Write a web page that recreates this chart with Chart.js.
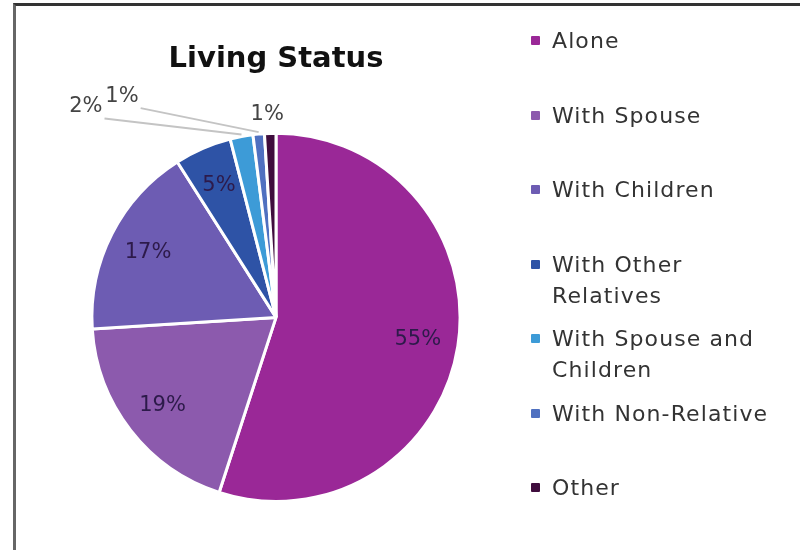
<!DOCTYPE html>
<html>
<head>
<meta charset="utf-8">
<script src="https://cdn.jsdelivr.net/npm/chart.js@4"></script>
<style>
  body { margin: 0; background: #fff; }
  #frame { position: absolute; left: 13px; top: 3px; width: 800px; height: 560px;
           border-top: 3px solid #333; border-left: 3px solid #666; }
  #wrap { position: absolute; left: 0; top: 0; width: 540px; height: 550px; }
  #legend { position: absolute; left: 531px; top: 25px; font-family: "DejaVu Sans", sans-serif;
            font-size: 22px; letter-spacing: 1.1px; color: #333; }
  .item { position: relative; height: 74.5px; padding-left: 21px; line-height: 31px; }
  .box { position: absolute; left: 0; top: 11px; width: 9px; height: 9px; border-radius: 1px; }
</style>
</head>
<body>
<div id="frame"></div>
<div id="wrap"><canvas id="myChart"></canvas></div>
<div id="legend"></div>
<script>
// living arrangements, percent of respondents
let categories = ['Alone', 'With Spouse', 'With Children', 'With Other Relatives',
                  'With Spouse and Children', 'With Non-Relative', 'Other'];
let legendText = ['Alone', 'With Spouse', 'With Children', 'With Other<br>Relatives',
                  'With Spouse and<br>Children', 'With Non-Relative', 'Other'];
let percents = [55, 19, 17, 5, 2, 1, 1];
let colors = ['#9a2897', '#8c5aad', '#6d5cb3', '#2e53a6', '#3d9bd7', '#4f70c0', '#3f0d3d'];

// small slices get an outside label, pulled off from the slice edge
let callouts = {4: {dx: -139, dy: -20, line: true}, 5: {dx: -120, dy: -28, line: true}, 6: {dx: -3, dy: -9, line: false}};

let legend = document.getElementById('legend');
legendText.forEach((t, i) => {
    legend.innerHTML += '<div class="item"><span class="box" style="background:' + colors[i] + '"></span>' + t + '</div>';
});

const pctLabels = {
    id: 'pctLabels',
    afterDatasetsDraw(chart) {
        let ctx = chart.ctx;
        let meta = chart.getDatasetMeta(0);
        ctx.save();
        ctx.font = '21px "DejaVu Sans"';
        ctx.textAlign = 'center';
        ctx.textBaseline = 'middle';
        meta.data.forEach((arc, i) => {
            let mid = (arc.startAngle + arc.endAngle) / 2;
            let txt = percents[i] + '%';
            let c = callouts[i];
            if (!c) {
                let r = arc.outerRadius * 0.78;
                ctx.fillStyle = '#2d1a4a';
                ctx.fillText(txt, arc.x + Math.cos(mid) * r, arc.y + Math.sin(mid) * r);
            } else {
                let ex = arc.x + Math.cos(mid) * arc.outerRadius;
                let ey = arc.y + Math.sin(mid) * arc.outerRadius;
                let lx = ex + c.dx, ly = ey + c.dy;
                if (c.line) {
                    ctx.strokeStyle = '#c4c4c4';
                    ctx.lineWidth = 2;
                    ctx.beginPath();
                    ctx.moveTo(lx + 2, ly + 2);
                    ctx.lineTo(ex, ey - 2);
                    ctx.stroke();
                    ctx.textAlign = 'right';
                } else {
                    ctx.textAlign = 'center';
                }
                ctx.fillStyle = '#444';
                ctx.fillText(txt, lx, ly - 10);
            }
        });
        ctx.restore();
    }
};

let myChart = document.getElementById('myChart').getContext('2d');
let livingChart = new Chart(myChart, {
    type: 'pie',
    data: {
        labels: categories,
        datasets: [{
            data: percents,
            backgroundColor: colors,
            borderColor: '#fff',
            borderWidth: 3
        }]
    },
    options: {
        responsive: true,
        maintainAspectRatio: false,
        animation: false,
        layout: { padding: { left: 90, right: 78, top: 0, bottom: 47 } },
        plugins: {
            legend: { display: false },
            tooltip: { enabled: false },
            title: {
                display: true,
                text: 'Living Status',
                color: '#111',
                font: { family: 'DejaVu Sans', size: 29, weight: 'bold' },
                padding: { top: 42, bottom: 55 }
            }
        }
    },
    plugins: [pctLabels]
});
</script>
</body>
</html>
